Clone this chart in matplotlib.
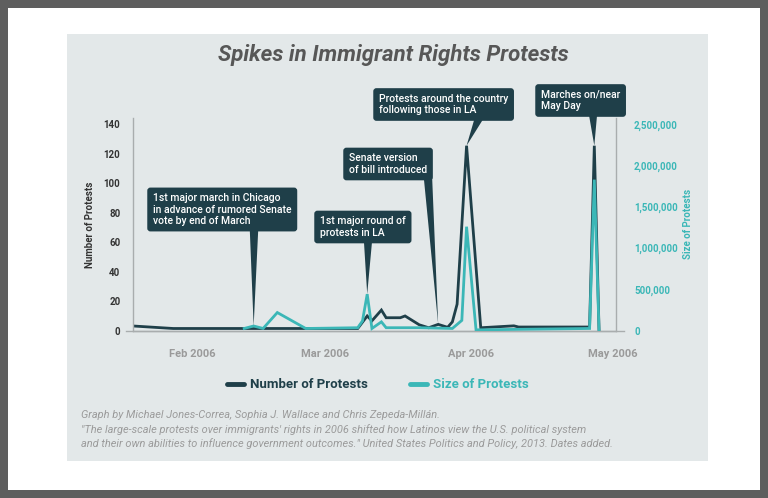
import numpy as np
import pandas as pd
import matplotlib
matplotlib.use("Agg")
import matplotlib.pyplot as plt
from matplotlib.patches import Rectangle
from matplotlib.ticker import FuncFormatter, MultipleLocator
import matplotlib.dates as mdates

plt.rcParams['font.family'] = ['Roboto', 'DejaVu Sans']

# number of protests (left axis)
count_dates = ["2006-01-19", "2006-01-28", "2006-03-08", "2006-03-10", "2006-03-11",
               "2006-03-13", "2006-03-14", "2006-03-17", "2006-03-18", "2006-03-21",
               "2006-03-23", "2006-03-25", "2006-03-27", "2006-03-28", "2006-03-29",
               "2006-03-31", "2006-04-03", "2006-04-10", "2006-04-11", "2006-04-26",
               "2006-04-27", "2006-04-28"]
count_values = [3.3, 1.5, 1.5, 10, 6.7, 14, 8.8, 8.8, 10, 4, 2, 4.3, 2.3, 6, 18,
                125.5, 2, 3.3, 2.5, 2.5, 125.5, 0]

# size of protests (right axis)
size_dates = ["2006-02-12", "2006-02-14", "2006-02-16", "2006-02-19", "2006-02-25",
              "2006-03-08", "2006-03-09", "2006-03-10", "2006-03-11", "2006-03-13",
              "2006-03-14", "2006-03-21", "2006-03-28", "2006-03-30", "2006-03-31",
              "2006-04-02", "2006-04-26", "2006-04-27", "2006-04-28"]
size_values = [27000, 57000, 27000, 220000, 27000, 36000, 118000, 443000, 27000,
               107000, 36000, 36000, 27000, 125000, 1260000, 10000, 27000, 1830000, 0]

month_ticks = ["2006-02-01", "2006-03-01", "2006-04-01", "2006-05-01"]
month_labels = ["Feb 2006", "Mar 2006", "Apr 2006", "May 2006"]

# callouts: text, box left / centre y (image px), pointer base (image px), target
notes = [
    ("1st major march in Chicago\nin advance of rumored Senate\nvote by end of March",
     153, 209.5, (254, 231), ("size", "2006-02-14", 57000)),
    ("1st major round of\nprotests in LA", 320, 227, (368, 240), ("size", "2006-03-10", 443000)),
    ("Senate version\nof bill introduced", 349, 164, (428, 178), ("count", "2006-03-25", 4.3)),
    ("Protests around the country\nfollowing those in LA", 379, 104.5, (479, 118),
     ("count", "2006-03-31", 125.5)),
    ("Marches on/near\nMay Day", 541, 100.5, (593, 114), ("count", "2006-04-27", 125.5)),
]

DARK = "#1f3f49"
TEAL = "#3bb7b7"
W, H = 768, 498

fig = plt.figure(figsize=(W / 100, H / 100), dpi=100, facecolor="#5e5e5e")
fig.patches.append(Rectangle((8 / W, 8 / H), 752 / W, 482 / H, transform=fig.transFigure,
                             facecolor="white", edgecolor="none", zorder=-2))
fig.patches.append(Rectangle((67 / W, 37 / H), 641 / W, 427 / H, transform=fig.transFigure,
                             facecolor="#e3e8e9", edgecolor="none", zorder=-1))

ax = fig.add_axes([133 / W, (H - 330.7) / H, 483 / W, 212.7 / H])
ax.patch.set_visible(False)
ax2 = ax.twinx()

cd = pd.to_datetime(count_dates)
sd = pd.to_datetime(size_dates)
ax2.plot(sd, size_values, color=TEAL, lw=2, solid_joinstyle="miter")
ax.plot(cd, count_values, color=DARK, lw=2, solid_joinstyle="miter")

ax.set_xlim(pd.Timestamp("2006-01-19 12:00"), pd.Timestamp("2006-05-01 14:00"))
ymax = 144.3
ax.set_ylim(0, ymax)
ax2.set_ylim(0, ymax * 2500000 / 140)
ax.yaxis.set_major_locator(MultipleLocator(20))
ax2.yaxis.set_major_locator(MultipleLocator(500000))
ax2.yaxis.set_major_formatter(FuncFormatter(lambda v, p: f"{int(v):,}"))
ax.set_xticks(pd.to_datetime(month_ticks))
ax.set_xticklabels(month_labels)

for a in (ax, ax2):
    a.spines["top"].set_visible(False)
    for s in ("left", "right", "bottom"):
        a.spines[s].set_color("#a9adae")
        a.spines[s].set_linewidth(1)
ax.spines["right"].set_visible(False)
ax2.spines["left"].set_visible(False)
ax2.spines["bottom"].set_visible(False)
ax.plot([-0.014, 1.016], [0, 0], transform=ax.transAxes, color="#a9adae", lw=1, clip_on=False)

ax.tick_params(axis="y", length=0, pad=9, labelsize=7, labelcolor="#333333")
ax2.tick_params(axis="y", length=0, pad=13, labelsize=7, labelcolor=TEAL)
ax.tick_params(axis="x", length=0, pad=13, labelsize=8, labelcolor="#9a9a9a")
for lab in ax.get_yticklabels() + ax2.get_yticklabels() + ax.get_xticklabels():
    lab.set_fontweight("bold")

ax.set_ylabel("Number of Protests", fontsize=7, fontweight="bold", color="#333333", labelpad=6)
ax2.set_ylabel("Size of Protests", fontsize=7, fontweight="bold", color=TEAL, labelpad=4)

fig.text(393 / W, 1 - 55 / H, "Spikes in Immigrant Rights Protests", ha="center", va="center",
         fontsize=16, fontweight="bold", fontstyle="italic", color="#575757")

# callouts
for text, tx, ty, base, (series, dt, val) in notes:
    tr = ax2.transData if series == "size" else ax.transData
    ax2.annotate("", xy=(mdates.date2num(pd.Timestamp(dt)), val), xycoords=tr,
                 xytext=(base[0], H - base[1]), textcoords="figure pixels",
                 arrowprops=dict(arrowstyle="wedge,tail_width=0.6,shrink_factor=0.5",
                                 fc=DARK, ec="none", shrinkA=0, shrinkB=0,
                                 mutation_scale=10),
                 annotation_clip=False, zorder=5)
    fig.text(tx / W, 1 - ty / H, text, ha="left", va="center", fontsize=7.5,
             fontweight="medium", color="white", linespacing=1.15, zorder=6,
             bbox=dict(boxstyle="round,pad=0.55,rounding_size=0.3", fc=DARK, ec="none"))

# legend
ly = 1 - 384 / H
fig.lines.append(plt.Line2D([227 / W, 244 / W], [ly, ly], transform=fig.transFigure,
                            color=DARK, lw=3.5, solid_capstyle="round"))
fig.text(250 / W, ly, "Number of Protests", ha="left", va="center", fontsize=9.5,
         fontweight="bold", color=DARK)
fig.lines.append(plt.Line2D([410 / W, 427 / W], [ly, ly], transform=fig.transFigure,
                            color=TEAL, lw=3.5, solid_capstyle="round"))
fig.text(433 / W, ly, "Size of Protests", ha="left", va="center", fontsize=9.5,
         fontweight="bold", color=TEAL)

foot = ("Graph by Michael Jones-Correa, Sophia J. Wallace and Chris Zepeda-Millán.\n"
        "\"The large-scale protests over immigrants' rights in 2006 shifted how Latinos view the U.S. political system\n"
        "and their own abilities to influence government outcomes.\" United States Politics and Policy, 2013. Dates added.")
fig.text(81 / W, 1 - 410 / H, foot, ha="left", va="top", fontsize=7.9, fontstyle="italic",
         color="#9b9b9b", linespacing=1.42)

fig.savefig("out.png", dpi=100, facecolor=fig.get_facecolor())
